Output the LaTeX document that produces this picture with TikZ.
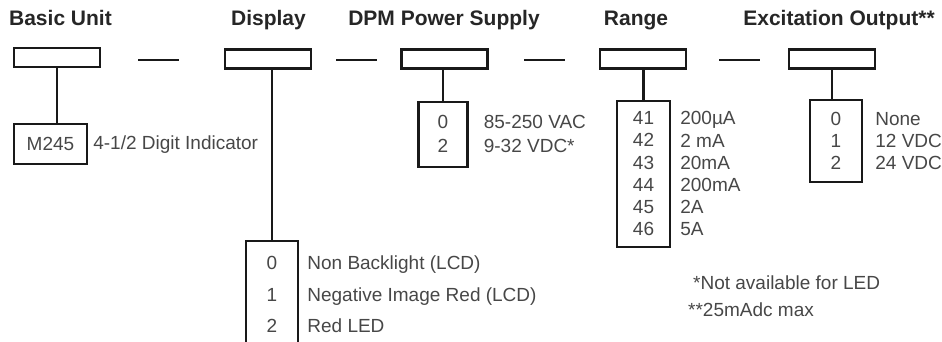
\documentclass[tikz,border=0pt]{standalone}
\usepackage{fontspec}
\setmainfont{Liberation Sans}
\usetikzlibrary{positioning}

\begin{document}
\begin{tikzpicture}[x=1pt,y=-1pt]
\tikzset{
heading/.style={font=\fontsize{21}{24}\selectfont\bfseries, text=black!85, inner sep=0pt, anchor=base},
slot/.style={rectangle, draw=black!90, line width=2.3pt, minimum width=86pt, minimum height=19pt, inner sep=0pt},
codebox/.style={rectangle, draw=black!90, line width=2.3pt, inner sep=0pt, align=center, text=black!72, font=\fontsize{19}{22.2}\selectfont},
desc/.style={align=left, inner sep=0pt, text=black!72, font=\fontsize{19}{22.2}\selectfont},
sepbar/.style={rectangle, fill=black!90, minimum width=41pt, minimum height=2.3pt, inner sep=0pt},
myline/.style={line width=2.3pt, draw=black!90},
}
\useasboundingbox (0,0) rectangle (942,341);

% headings
\node [heading] (hbasic) at (60.5,25) {Basic Unit};
\node [heading] (hdisp) at (268.5,25) {Display};
\node [heading] (hps) at (444,25) {DPM Power Supply};
\node [heading] (hrange) at (636,25) {Range};
\node [heading] (hexc) at (839,25) {Excitation Output**};

% order code slots
\node [slot] (basic) at (57,57.5) {};
\node [slot] (disp) at (268,59) {};
\node [slot] (ps) at (444.5,59) {};
\node [slot] (range) at (643,59) {};
\node [slot] (exc) at (832,59) {};
\node [sepbar] (bar1) at (158.5,60) {};
\node [sepbar] (bar2) at (356,60) {};
\node [sepbar] (bar3) at (544,60) {};
\node [sepbar] (bar4) at (739.5,60) {};

% option boxes
\node [codebox, below=55pt of basic, xshift=-6.5pt, minimum width=73pt, minimum height=40pt] (m245) {M245};
\node [desc, right=5pt of m245] (m245txt) {4-1/2 Digit Indicator};

\node [below=171pt of disp, xshift=4pt, minimum width=52pt, minimum height=101pt, inner sep=0pt] (dispopt) {};
\node [desc, align=center, font=\fontsize{19}{31.5}\selectfont] (dispnum) at (272,294.5) {0\\1\\2};
\node [desc, font=\fontsize{19}{31.5}\selectfont, anchor=west, xshift=9pt] (disptxt) at (dispopt.east |- dispnum) {Non Backlight (LCD)\\Negative Image Red (LCD)\\Red LED};

\node [codebox, below=31pt of ps, xshift=-1.5pt, minimum width=49pt, minimum height=65pt, font=\fontsize{19}{24}\selectfont] (psopt) {0\\2};
\node [desc, right=15pt of psopt, font=\fontsize{19}{24}\selectfont] (pstxt) {85-250 VAC\\9-32 VDC*};

\node [codebox, below=30pt of range, xshift=0.5pt, minimum width=53pt, minimum height=146pt] (rangeopt) {41\\42\\43\\44\\45\\46};
\node [desc, right=9pt of rangeopt] (rangetxt) {200µA\\2 mA\\20mA\\200mA\\2A\\5A};

\node [codebox, below=29pt of exc, xshift=4pt, minimum width=52pt, minimum height=82pt] (excopt) {0\\1\\2};
\node [desc, right=12pt of excopt] (exctxt) {None\\12 VDC\\24 VDC};

% footnotes
\node [desc, anchor=west] (note1) at (693,283) {*Not available for LED};
\node [desc, anchor=west] (note2) at (688,310) {**25mAdc max};

% stems
\draw[myline] (basic.south) -- (basic.south |- m245.north);
\draw[myline] (dispopt.north |- disp.south) -- (dispopt.north);
\draw[myline] (psopt.north |- ps.south) -- (psopt.north);
\draw[myline] (rangeopt.north |- range.south) -- (rangeopt.north);
\draw[myline] (exc.south) -- (exc.south |- excopt.north);
\draw[myline] (dispopt.south west) -- (dispopt.north west) -- (dispopt.north east) -- (dispopt.south east);
\end{tikzpicture}
\end{document}
